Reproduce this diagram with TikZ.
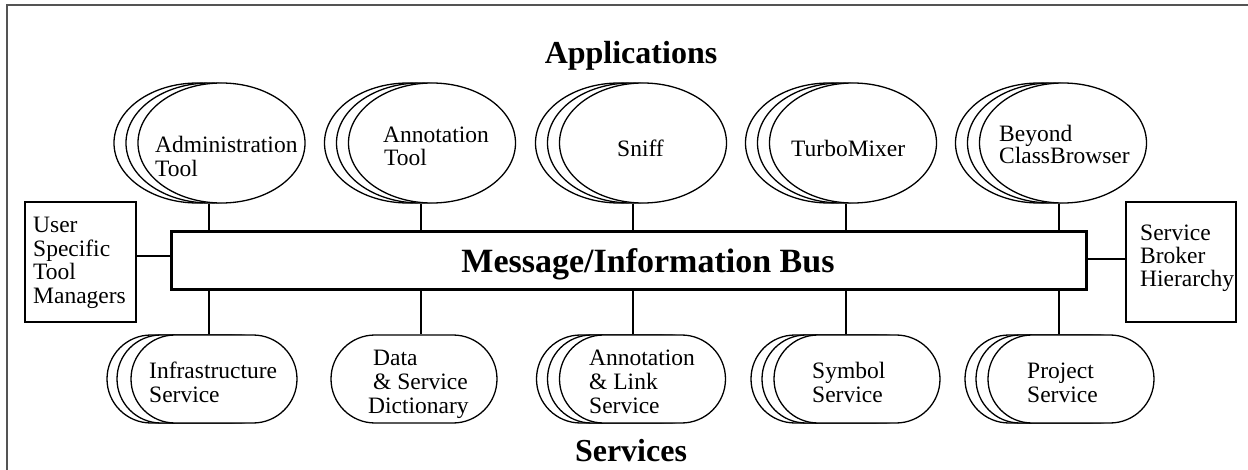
\documentclass[tikz,border=0pt]{standalone}
\usepackage{fontspec}
\setmainfont{Liberation Serif}
\usetikzlibrary{shapes.geometric,shapes.misc}
\begin{document}
\begin{tikzpicture}[x=1pt,y=-1pt,
  ln/.style={line width=1.3pt},
  app/.style={ellipse,draw,ln,fill=white,minimum width=167pt,minimum height=120pt,inner sep=0pt},
  srv/.style={rounded rectangle,draw,ln,fill=white,minimum width=166pt,minimum height=88pt,inner sep=0pt},
  sbox/.style={rectangle,draw,ln,fill=white,inner sep=0pt},
  txt/.style={anchor=base west,inner sep=0pt,font=\fontsize{23.5}{24}\selectfont},
  hdr/.style={anchor=base,inner sep=0pt,font=\fontsize{32}{34}\selectfont\bfseries},
  conn/.style={ln}]
\useasboundingbox (0,0) rectangle (1248,470);
\draw[line width=2pt,color=black!67] (7,470) -- (7,5) -- (1248,5);

\node[hdr] (happ) at (631,64) {Applications};
\node[hdr] (hsrv) at (631,461) {Services};

% bus
\node[sbox,line width=3pt,minimum width=915pt,minimum height=58pt] (bus) at (628.5,261) {};
\node[hdr,font=\fontsize{34}{36}\selectfont\bfseries] (bust) at (648,273) {Message/Information Bus};

% side boxes
\node[sbox,minimum width=111pt,minimum height=120pt] (usr) at (80.5,262) {};
\node[sbox,minimum width=110pt,minimum height=120pt] (sbh) at (1181,262) {};
\coordinate (yl) at (0,256);
\coordinate (yr) at (0,259);
\draw[conn] (usr.east |- yl) -- (bus.west |- yl);
\draw[conn] (bus.east |- yr) -- (sbh.west |- yr);
\node[txt] (u1) at (33,233) {User};
\node[txt] (u2) at (33,257) {Specific};
\node[txt] (u3) at (33,280) {Tool};
\node[txt] (u4) at (33,304) {Managers};
\node[txt] (s1) at (1140,241) {Service};
\node[txt] (s2) at (1140,264) {Broker};
\node[txt] (s3) at (1140,287) {Hierarchy};

% applications
\foreach \n/\f/\c in {a/221.5/209, b/432/421, c/643/633, d/853/846, e/1063/1059}{
  \node[app] (\n3) at ({\f-24},143) {};
  \node[app] (\n2) at ({\f-12},143) {};
  \node[app] (\n1) at (\f,143) {};
  \coordinate (\n c) at (\c,0);
  \draw[conn] (\n c |- \n1.south) -- (\n c |- bus.north);
}
\node[txt] (at1) at (155,153) {Administration};
\node[txt] (at2) at (155,177) {Tool};
\node[txt] (bt1) at (383,143) {Annotation};
\node[txt] (bt2) at (384,166) {Tool};
\node[txt] (ct1) at (617,157) {Sniff};
\node[txt] (dt1) at (791,157) {TurboMixer};
\node[txt] (et1) at (999,142) {Beyond};
\node[txt] (et2) at (999,164) {ClassBrowser};

% services
\node[srv] (p3) at (190,379) {};
\node[srv] (p2) at (200,379) {};
\node[srv] (p1) at (214,379) {};
\node[srv] (q1) at (414,379) {};
\node[srv] (r3) at (619.5,379) {};
\node[srv] (r2) at (630.5,379) {};
\node[srv] (r1) at (642.5,379) {};
\node[srv] (s3x) at (834,379) {};
\node[srv] (s2x) at (845,379) {};
\node[srv] (s1x) at (857,379) {};
\node[srv] (t3) at (1048,379) {};
\node[srv] (t2) at (1059,379) {};
\node[srv] (t1) at (1071,379) {};
\foreach \n/\c in {p1/209, q1/421, r1/633, s1x/846, t1/1059}{
  \coordinate (\n c) at (\c,0);
  \draw[conn] (\n c |- bus.south) -- (\n c |- \n.north);
}
\node[txt] (pt1) at (149,378) {Infrastructure};
\node[txt] (pt2) at (149,402) {Service};
\node[txt] (qt1) at (373,366) {Data};
\node[txt] (qt2) at (373,389) {\& Service};
\node[txt] (qt3) at (368,413) {Dictionary};
\node[txt] (rt1) at (589,366) {Annotation};
\node[txt] (rt2) at (589,389) {\& Link};
\node[txt] (rt3) at (589,413) {Service};
\node[txt] (st1) at (812,378) {Symbol};
\node[txt] (st2) at (812,402) {Service};
\node[txt] (tt1) at (1027,378) {Project};
\node[txt] (tt2) at (1027,402) {Service};
\end{tikzpicture}
\end{document}
